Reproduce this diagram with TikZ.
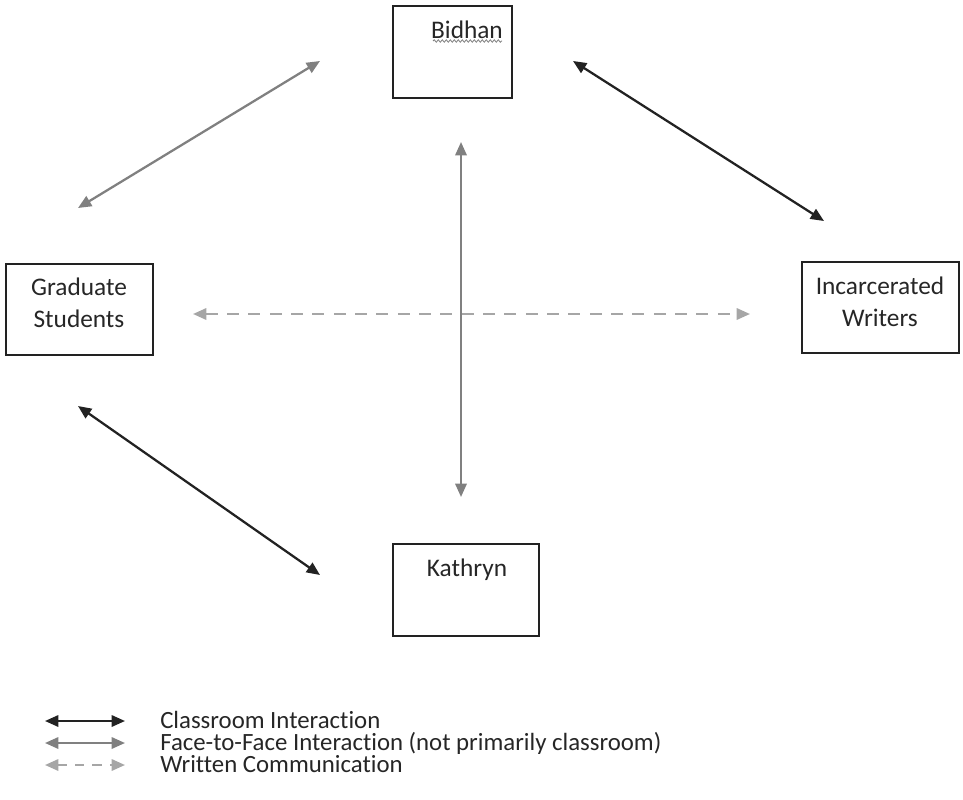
\documentclass[tikz,border=0pt]{standalone}
\usepackage{fontspec}
\setmainfont{Carlito}[Ligatures={NoCommon,NoRequired,NoContextual,NoDiscretionary}]
\usetikzlibrary{arrows.meta,decorations.pathmorphing}
\definecolor{dk}{HTML}{222222}
\definecolor{md}{HTML}{808080}
\definecolor{lt}{HTML}{A6A6A6}
\definecolor{tx}{HTML}{262626}
\tikzset{
  lbl/.style={text=tx, font=\fontsize{19}{24}\selectfont, align=center, inner sep=0pt},
  both/.style={{Triangle[length=10pt,width=8.5pt]}-{Triangle[length=10pt,width=8.5pt]}, line width=1.7pt},
  classroom/.style={both, draw=dk},
  face/.style={both, draw=md},
  written/.style={both, draw=lt, dash pattern=on 9pt off 7pt},
  legtext/.style={text=tx, font=\fontsize{18.6}{20}\selectfont, anchor=base west, inner sep=0pt, text height=11pt, text depth=3pt}
}
\begin{document}
\begin{tikzpicture}[x=0.75pt,y=-0.75pt]
\useasboundingbox (0,0) rectangle (963,799);
% boxes
\draw[dk, line width=1pt] (393,6) rectangle (512,98);
\draw[dk, line width=1pt] (6,264) rectangle (153,355);
\draw[dk, line width=1pt] (802,262) rectangle (959,353);
\draw[dk, line width=1pt] (393,544) rectangle (539,636);
\node[lbl] (bidhan) at (467,30) {Bidhan};
\draw[md, line width=0.6pt, decorate, decoration={snake, amplitude=0.9pt, segment length=3pt}] (433,41) -- (502,41);
\node[lbl] (grad) at (79,303) {Graduate\\Students};
\node[lbl] (inc) at (880,302) {Incarcerated\\Writers};
\node[lbl] (kath) at (467,570) {Kathryn};
% connector endpoints
\coordinate (a1) at (78,208); \coordinate (a2) at (320,61);
\coordinate (b1) at (573,61); \coordinate (b2) at (824,221);
\coordinate (c1) at (461,142); \coordinate (c2) at (461,497);
\coordinate (d1) at (193,314); \coordinate (d2) at (750,314);
\coordinate (e1) at (78,406); \coordinate (e2) at (320,575);
\draw[face] (a1) -- (a2);
\draw[classroom] (b1) -- (b2);
\draw[face] (c1) -- (c2);
\draw[written] (d1) -- (d2);
\draw[classroom] (e1) -- (e2);
% legend
\coordinate (l1a) at (45,721); \coordinate (l1b) at (125,721);
\coordinate (l2a) at (45,743); \coordinate (l2b) at (125,743);
\coordinate (l3a) at (45,765); \coordinate (l3b) at (125,765);
\draw[classroom] (l1a) -- (l1b);
\draw[face] (l2a) -- (l2b);
\draw[written, dash pattern=on 7pt off 6pt] (l3a) -- (l3b);
\node[legtext] (t1) at (160,728) {Classroom Interaction};
\node[legtext] (t2) at (160,750) {Face-to-Face Interaction (not primarily classroom)};
\node[legtext] (t3) at (160,772) {Written Communication};
\end{tikzpicture}
\end{document}
